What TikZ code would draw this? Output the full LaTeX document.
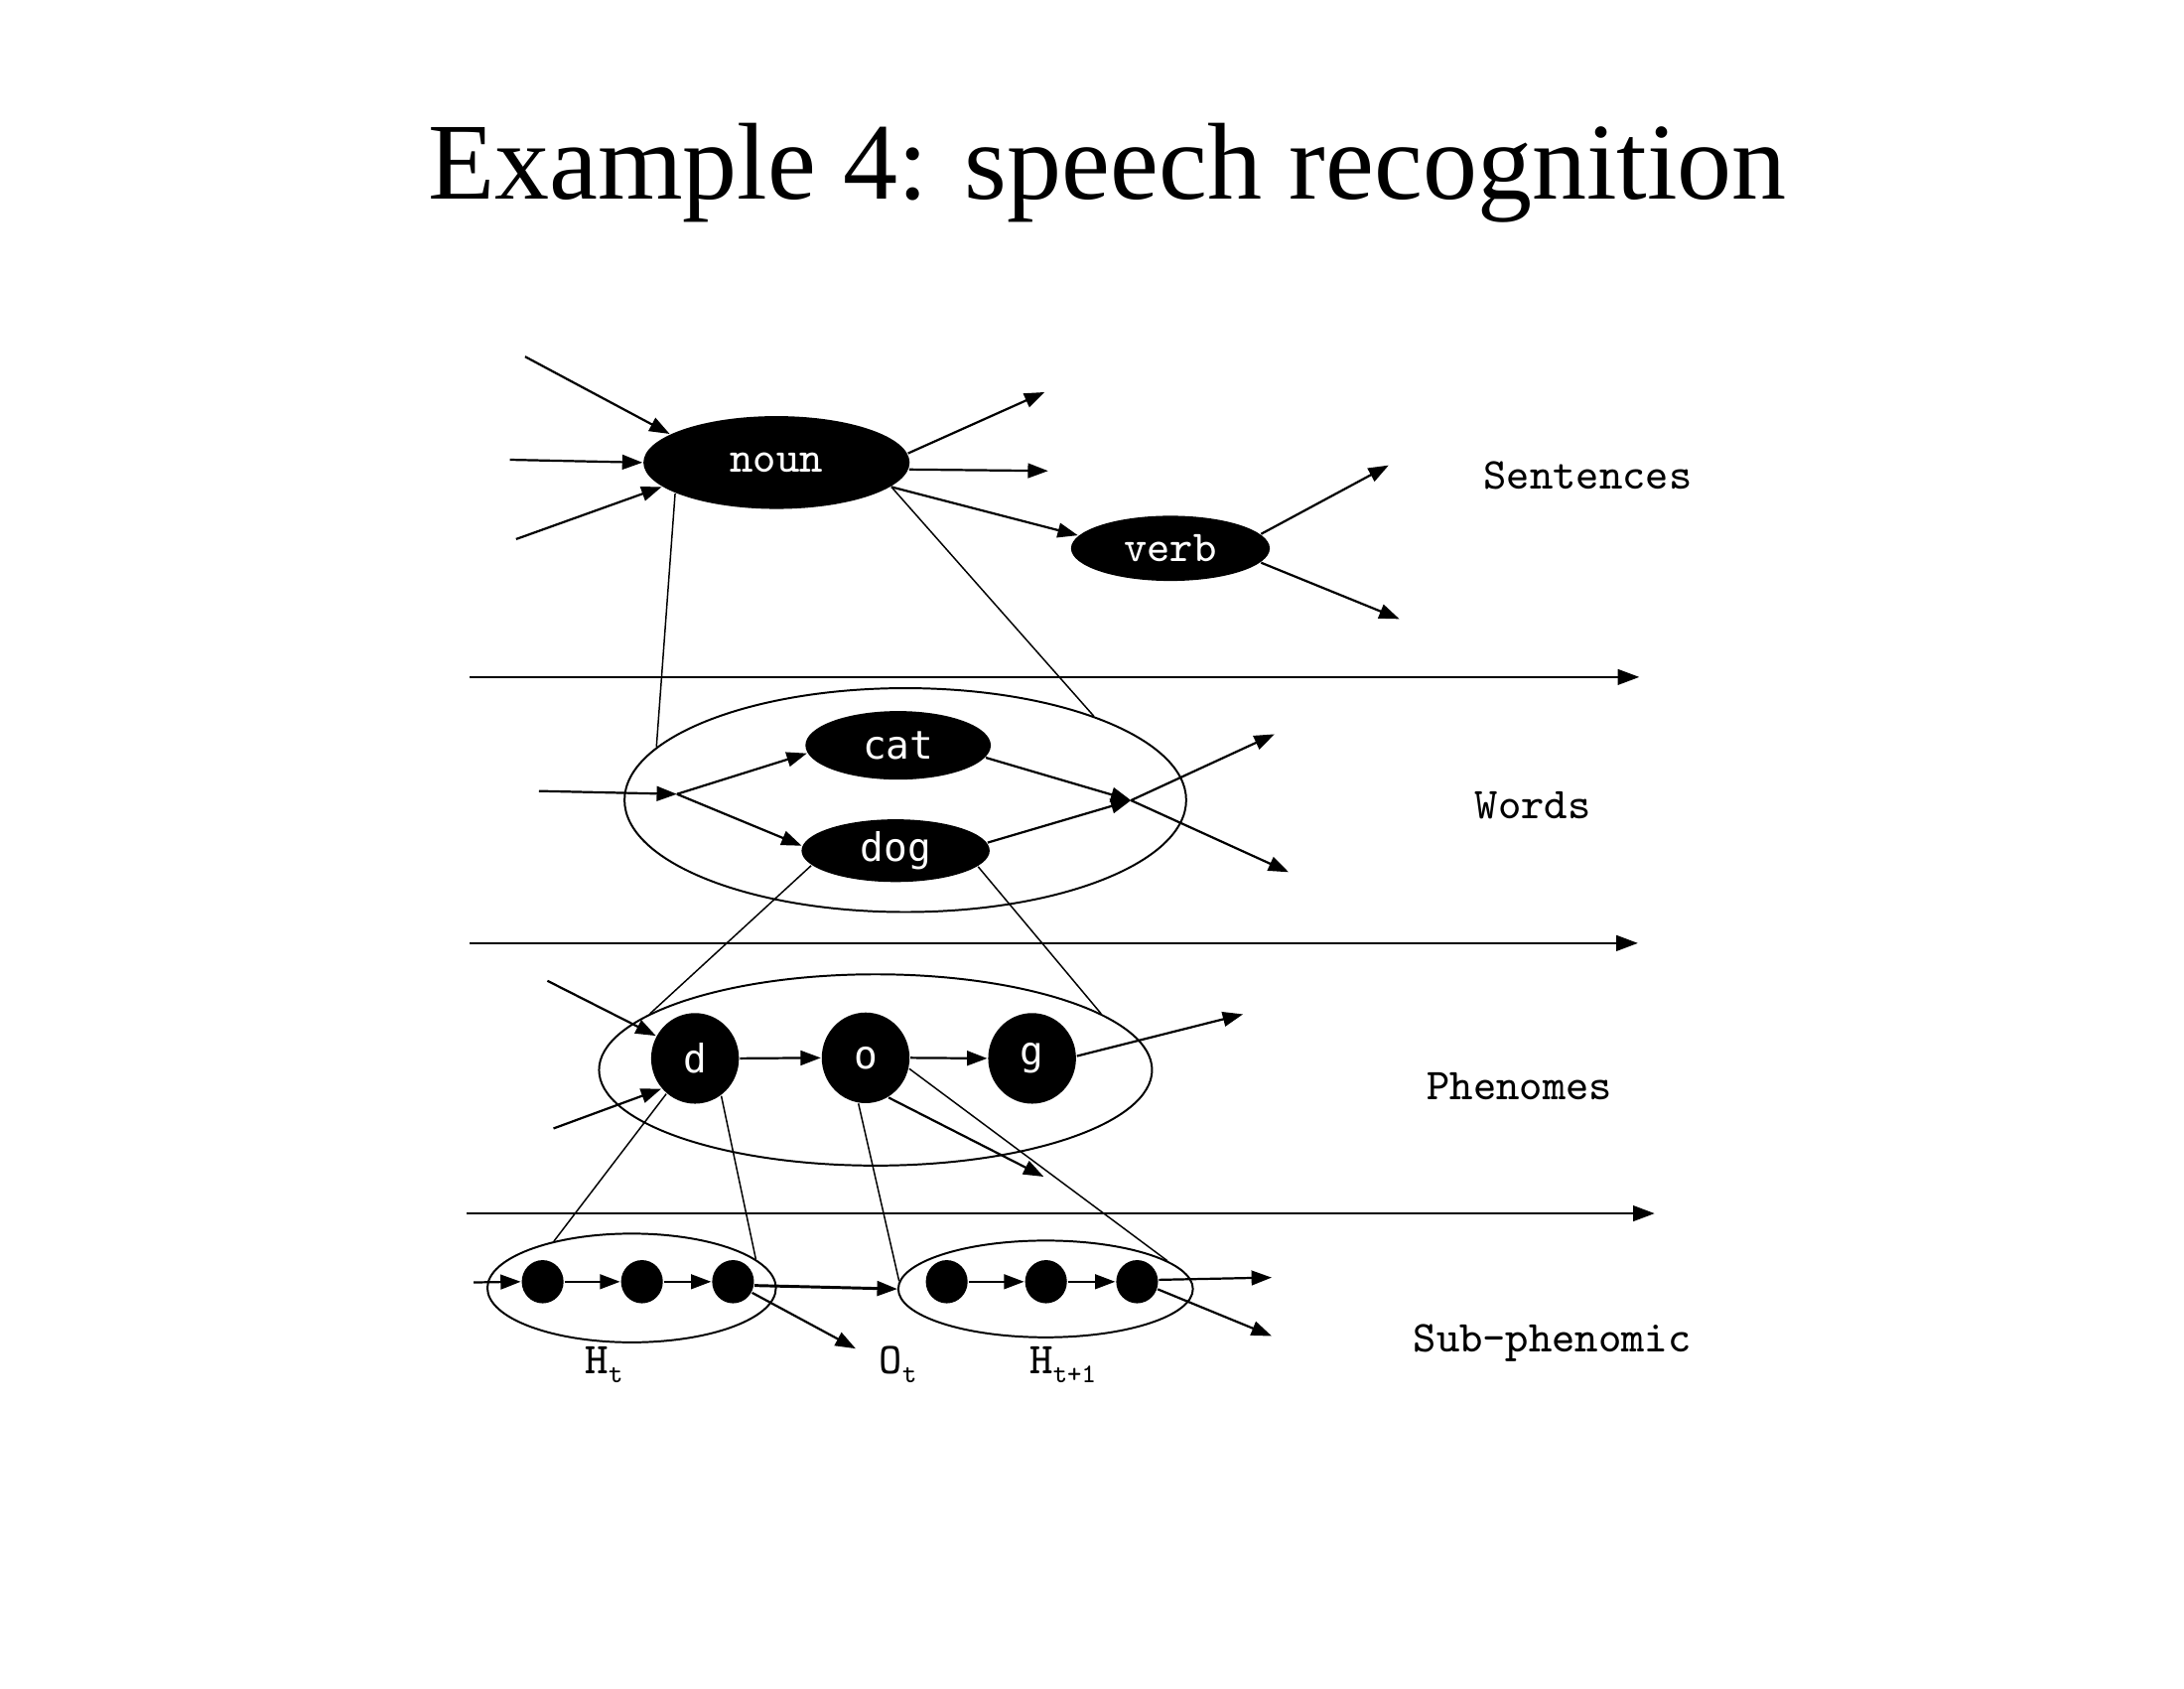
\documentclass[tikz,border=0pt]{standalone}
\usepackage{fontspec}
\setmainfont{Liberation Serif}
\newfontfamily\sansmono{DejaVu Sans Mono}
\usetikzlibrary{arrows.meta,shapes.geometric}

\begin{document}
\begin{tikzpicture}[x=0.01cm,y=-0.01cm,
  every node/.style={font=\ttfamily\fontsize{9}{10.8}\selectfont},
  tok/.style={ellipse, fill=black, text=white, inner sep=0pt},
  tokS/.style={tok, font=\sansmono\fontsize{8}{9.6}\selectfont},
  group/.style={ellipse, draw, line width=0.4pt, inner sep=0pt},
  dot/.style={ellipse, fill=black, minimum width=0.30cm, minimum height=0.31cm, inner sep=0pt},
  arr/.style={line width=0.45pt, -{Triangle[length=0.145cm,width=0.105cm]}},
  link/.style={line width=0.3pt},
  axis/.style={line width=0.55pt, -{Triangle[length=0.155cm,width=0.11cm]}},
  level/.style={font=\ttfamily\fontsize{9}{10.8}\selectfont},
  sub/.style={anchor=base west}]

% page
\fill[white] (0,0) rectangle (1568,1212);
\useasboundingbox (0,0) rectangle (1568,1212);

% title
\node[font=\rmfamily\fontsize{22.3}{26}\selectfont, anchor=base, inner sep=0pt] (title) at (795,142.6) {Example 4: speech recognition};

% ---------- sentence level ----------
\node[tok, minimum width=1.91cm, minimum height=0.666cm] (noun) at (557.5,332) {noun};
\node[tok, minimum width=1.426cm, minimum height=0.468cm] (verb) at (840.3,393.6) {verb};

\coordinate (nIn1) at (377,256);
\coordinate (nIn2) at (366,330);
\coordinate (nIn3) at (370.5,387);
\coordinate (nOut1) at (750,281.5);
\coordinate (nOut2) at (752.5,338);
\coordinate (vOut1) at (997,334);
\coordinate (vOut2) at (1004.7,444.3);

\draw[arr] (nIn1) -- (noun.165.9);
\draw[arr] (nIn2) -- (noun.180);
\draw[arr] (nIn3) -- (noun.-168);
\draw[arr] (noun.4) -- (nOut1);
\draw[arr] (noun.-3.6) -- (nOut2);
\draw[arr] (noun.-12) -- (verb.172.6);
\draw[arr] (verb.9) -- (vOut1);
\draw[arr] (verb.-9) -- (vOut2);

% ---------- word level ----------
\node[group, minimum width=4.03cm, minimum height=1.606cm] (wordsbox) at (650,574.3) {};
\node[tokS, minimum width=1.33cm, minimum height=0.492cm] (cat) at (644.8,535) {cat};
\node[tokS, minimum width=1.35cm, minimum height=0.45cm] (dog) at (643,610.6) {dog};

\coordinate (wIn) at (387,567.8);
\coordinate (wL) at (486,570);
\coordinate (wR) at (812,574.5);
\coordinate (wOut1) at (915,527);
\coordinate (wOut2) at (925.2,626);

\draw[arr] (wIn) -- (wL);
\draw[arr] (wL) -- (cat.185);
\draw[arr] (wL) -- (dog.177);
\draw[arr] (cat.-8) -- (wR);
\draw[arr] (dog.5) -- (wR);
\draw[arr] (wR) -- (wOut1);
\draw[arr] (wR) -- (wOut2);

% ---------- phoneme level ----------
\node[group, minimum width=3.968cm, minimum height=1.372cm] (phonbox) at (628.6,768) {};
\node[tokS, minimum width=0.63cm, minimum height=0.65cm] (d) at (499,759.7) {d};
\node[tokS, minimum width=0.63cm, minimum height=0.65cm] (o) at (621.5,759.3) {o};
\node[tokS, minimum width=0.63cm, minimum height=0.65cm] (g) at (741,759.7) {g};

\coordinate (pIn1) at (393,704);
\coordinate (pIn2) at (397.4,810);
\coordinate (pOut) at (892.4,728);
\coordinate (pDown) at (749.3,844.6);

\draw[arr] (pIn1) -- (d.150);
\draw[arr] (pIn2) -- (d.222);
\draw[arr] (d.east) -- (o.west);
\draw[arr] (o.east) -- (g.west);
\draw[arr] (g.3) -- (pOut);
\draw[arr] (o.-60) -- (pDown);

% ---------- sub-phonemic level ----------
\node[group, minimum width=2.07cm, minimum height=0.78cm] (ht) at (453.5,924.5) {};
\node[group, minimum width=2.114cm, minimum height=0.694cm] (htt) at (750.7,925.2) {};
\node[dot] (a1) at (389.6,920) {};
\node[dot] (a2) at (460.9,920) {};
\node[dot] (a3) at (526.3,920) {};
\node[dot] (b1) at (679.7,920) {};
\node[dot] (b2) at (751,920) {};
\node[dot] (b3) at (816.4,920) {};

\node[sub] (htLabel) at (408,986) {H\raisebox{-0.45ex}{\fontsize{5.5}{6}\selectfont t}};
\node[sub] (otLabel) at (619,986) {O\raisebox{-0.45ex}{\fontsize{5.5}{6}\selectfont t}};
\node[sub] (httLabel) at (727,986) {H\raisebox{-0.45ex}{\fontsize{5.5}{6}\selectfont t+1}};

\coordinate (sIn) at (340,920.5);
\coordinate (otTip) at (614.3,968);
\coordinate (sOut1) at (913,917);
\coordinate (sOut2) at (913,959);

\draw[arr] (sIn) -- (a1.west);
\draw[arr] (a1.east) -- (a2.west);
\draw[arr] (a2.east) -- (a3.west);
\draw[arr, line width=0.6pt] (a3.-10) -- (htt.west);
\draw[arr] (a3.-30) -- (otTip);
\draw[arr] (b1.east) -- (b2.west);
\draw[arr] (b2.east) -- (b3.west);
\draw[arr] (b3.5) -- (sOut1);
\draw[arr] (b3.-20) -- (sOut2);

% ---------- links between levels ----------
\draw[link] (noun.-163) -- (wordsbox.168.7);
\draw[link] (noun.-12) -- (wordsbox.24.2);
\draw[link] (dog.190) -- (phonbox.166.4);
\draw[link] (dog.-11) -- (phonbox.14.1);
\draw[link] (d.231.7) -- (ht.149);
\draw[link] (d.-55.7) -- (ht.13);
\draw[link] (o.-99) -- (htt.177);
\draw[link] (o.-14) -- (htt.13);

% ---------- time axes ----------
\coordinate (ax1s) at (337,486);
\coordinate (ax1e) at (1177,486);
\coordinate (ax2s) at (337,677);
\coordinate (ax2e) at (1176,677);
\coordinate (ax3s) at (335,871);
\coordinate (ax3e) at (1188,871);
\draw[axis] (ax1s) -- (ax1e);
\draw[axis] (ax2s) -- (ax2e);
\draw[axis] (ax3s) -- (ax3e);

% ---------- level names ----------
\node[level] (lSent) at (1140,341) {Sentences};
\node[level] (lWords) at (1100.5,578) {Words};
\node[level] (lPhon) at (1091,780) {Phenomes};
\node[level] (lSub) at (1114.4,964) {Sub-phenomic};

\end{tikzpicture}
\end{document}
